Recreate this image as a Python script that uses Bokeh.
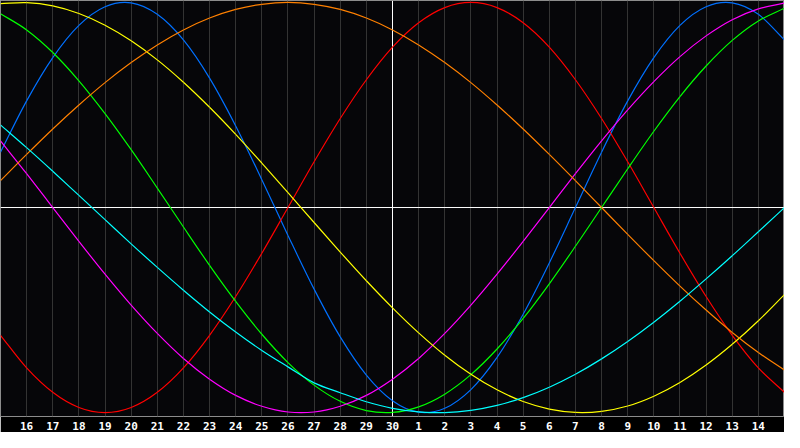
from bokeh.plotting import figure
from bokeh.models import Range1d, FixedTicker, Span, ColumnDataSource
from bokeh.embed import file_html
from bokeh.resources import INLINE

# Day labels for the 31 days shown (15th .. 30th, 1st .. 15th)
days = ["15", "16", "17", "18", "19", "20", "21", "22", "23", "24", "25", "26", "27", "28", "29", "30",
        "1", "2", "3", "4", "5", "6", "7", "8", "9", "10", "11", "12", "13", "14", "15"]

# Cycle values (-1 .. 1) read for each day
physical = [0.270, 0.520, 0.731, 0.888, 0.979, 0.998, 0.942, 0.817, 0.631, 0.398, 0.136, -0.136, -0.398,
            -0.631, -0.817, -0.942, -0.998, -0.979, -0.888, -0.731, -0.520, -0.270,
            0.000, 0.270, 0.520, 0.731, 0.888, 0.979, 0.998, 0.942, 0.817]
emotional = [-0.623, -0.782, -0.901, -0.975, -1.000, -0.975, -0.901, -0.782, -0.623, -0.434, -0.223,
             0.000, 0.223, 0.434, 0.623, 0.782, 0.901, 0.975, 1.000, 0.975, 0.901, 0.782, 0.623, 0.434,
             0.223, 0.000, -0.223, -0.434, -0.623, -0.782, -0.901]
intellectual = [0.945, 0.866, 0.756, 0.618, 0.458, 0.282, 0.095, -0.095, -0.282, -0.458, -0.618, -0.756,
                -0.866, -0.945, -0.990, -0.999, -0.972, -0.910, -0.815, -0.690, -0.541, -0.372, -0.189,
                0.000, 0.189, 0.372, 0.541, 0.690, 0.815, 0.910, 0.972]
intuitive = [0.325, 0.165, 0.000, -0.165, -0.325, -0.476, -0.614, -0.736, -0.837, -0.916, -0.969, -0.997,
             -0.997, -0.969, -0.916, -0.837, -0.736, -0.614, -0.476, -0.325, -0.165,
             0.000, 0.165, 0.325, 0.476, 0.614, 0.736, 0.837, 0.916, 0.969, 0.997]
aesthetic = [0.994, 0.999, 0.983, 0.946, 0.889, 0.813, 0.720, 0.611, 0.489, 0.357, 0.217, 0.073, -0.073,
             -0.217, -0.357, -0.489, -0.611, -0.720, -0.813, -0.889, -0.946, -0.983, -0.999, -0.994,
             -0.968, -0.920, -0.853, -0.768, -0.667, -0.552, -0.424]
awareness = [0.131, 0.259, 0.383, 0.500, 0.609, 0.707, 0.793, 0.866, 0.924, 0.966, 0.991, 1.000, 0.991,
             0.966, 0.924, 0.866, 0.793, 0.707, 0.609, 0.500, 0.383, 0.259, 0.131, 0.000, -0.131,
             -0.259, -0.383, -0.500, -0.609, -0.707, -0.793]
spiritual = [0.403, 0.292, 0.177, 0.059, -0.059, -0.177, -0.292, -0.403, -0.509, -0.607, -0.697, -0.777,
             -0.855, -0.903, -0.947, -0.979, -0.996, -1.000, -0.989, -0.965, -0.927, -0.876, -0.813,
             -0.738, -0.653, -0.559, -0.457, -0.348, -0.235, -0.118, 0.000]

series = [
    (physical, "#0070ff"),
    (emotional, "#ff0000"),
    (intellectual, "#00ff00"),
    (intuitive, "#ff00ff"),
    (aesthetic, "#ffff00"),
    (awareness, "#ff8000"),
    (spiritual, "#00ffff"),
]

x = list(range(len(days)))


def smooth_segments(xs, ys):
    """Catmull-Rom curve through the data points, as cubic Bezier segments."""
    n = len(xs)
    d = dict(x0=[], y0=[], x1=[], y1=[], cx0=[], cy0=[], cx1=[], cy1=[])
    for i in range(n - 1):
        xa, ya = (xs[i - 1], ys[i - 1]) if i > 0 else (2 * xs[0] - xs[1], 2 * ys[0] - ys[1])
        xd, yd = (xs[i + 2], ys[i + 2]) if i + 2 < n else (2 * xs[-1] - xs[-2], 2 * ys[-1] - ys[-2])
        d["x0"].append(xs[i]); d["y0"].append(ys[i])
        d["x1"].append(xs[i + 1]); d["y1"].append(ys[i + 1])
        d["cx0"].append(xs[i] + (xs[i + 1] - xa) / 6); d["cy0"].append(ys[i] + (ys[i + 1] - ya) / 6)
        d["cx1"].append(xs[i + 1] - (xd - xs[i]) / 6); d["cy1"].append(ys[i + 1] - (yd - ys[i]) / 6)
    return ColumnDataSource(d)


p = figure(width=784, height=432, output_backend="svg", toolbar_location=None,
           x_range=Range1d(0, len(days) - 1), y_range=Range1d(-1.019, 1.0095))
p.background_fill_color = "#060609"
p.border_fill_color = "#000000"
p.outline_line_color = "#8c8c8c"
p.outline_line_width = 1
p.min_border_left = 0
p.min_border_right = 0
p.min_border_top = 0
p.min_border_bottom = 0

# grid: vertical line at every day
p.ygrid.visible = False
p.xgrid.ticker = FixedTicker(ticks=x)
p.xgrid.grid_line_color = "#333333"
p.xgrid.grid_line_width = 1

p.yaxis.visible = False
xa = p.xaxis[0]
xa.ticker = FixedTicker(ticks=x[1:-1])
xa.major_label_overrides = {i: days[i] for i in x[1:-1]}
xa.axis_line_color = None
xa.major_tick_line_color = None
xa.minor_tick_line_color = None
xa.major_tick_out = 0
xa.major_tick_in = 0
xa.major_label_standoff = 5
xa.major_label_text_color = "#ffffff"
xa.major_label_text_font = "DejaVu Sans Mono"
xa.major_label_text_font_style = "bold"
xa.major_label_text_font_size = "11px"

# white centre cross
p.add_layout(Span(location=0, dimension="width", line_color="#ffffff", line_width=1, level="underlay"))
p.add_layout(Span(location=(len(days) - 1) / 2, dimension="height", line_color="#ffffff", line_width=1,
                  level="underlay"))

for vals, col in series:
    src = smooth_segments(x, vals)
    p.bezier(x0="x0", y0="y0", x1="x1", y1="y1", cx0="cx0", cy0="cy0", cx1="cx1", cy1="cy1",
             source=src, line_color=col, line_width=1.2)

open("out.html", "w").write(file_html(p, INLINE))
